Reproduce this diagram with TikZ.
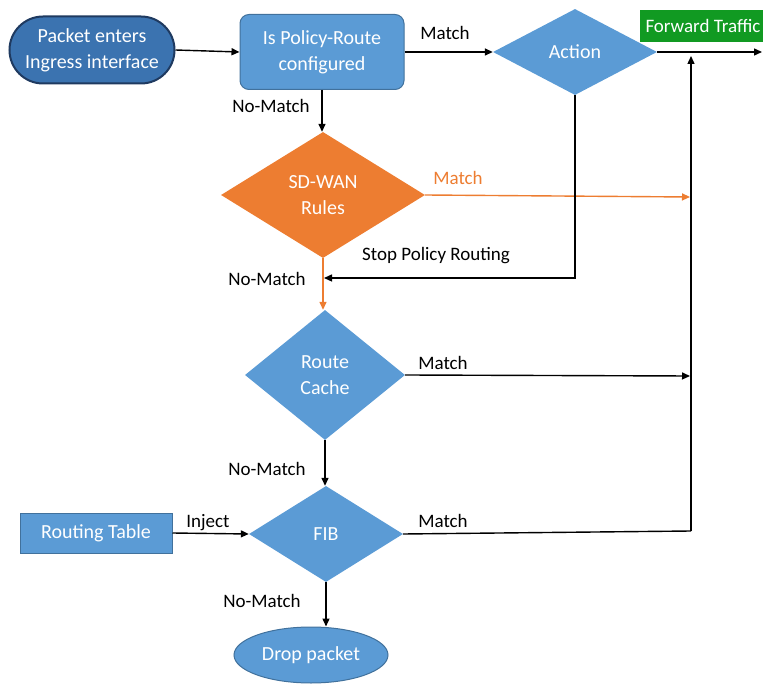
\documentclass[tikz,border=0pt]{standalone}
\usepackage{fontspec}
\setmainfont{Carlito}
\usetikzlibrary{shapes.geometric,shapes.misc,arrows.meta,calc}
\definecolor{bluefill}{HTML}{5B9BD5}
\definecolor{blueedge}{HTML}{41719C}
\definecolor{darkfill}{HTML}{3B73B0}
\definecolor{darkedge}{HTML}{1F3A60}
\definecolor{orangefill}{HTML}{ED7D31}
\definecolor{greenfill}{HTML}{119A22}
\tikzset{
  ntext/.style={text=white, font=\fontsize{20}{26}\selectfont, align=center},
  lbl/.style={font=\fontsize{19}{22}\selectfont, text=black},
  conn/.style={draw=black, line width=1.4pt, -{Triangle[length=8pt,width=7pt]}},
  plain/.style={draw=black, line width=1.4pt},
  oconn/.style={draw=orangefill, line width=1.4pt, -{Triangle[length=8pt,width=7pt]}},
}
\begin{document}
\begin{tikzpicture}[x=1pt,y=-1pt]
\useasboundingbox (0,0) rectangle (763,684);
% nodes
\node[rounded rectangle, fill=darkfill, draw=darkedge, line width=2pt, minimum width=165pt, minimum height=67pt, inner sep=0pt] (start) at (92,50) {};
\node[ntext] (starttext) at (start.center) {Packet enters\\Ingress interface};
\node[rounded corners=9pt, fill=bluefill, draw=blueedge, line width=1pt, minimum width=164pt, minimum height=75pt, inner sep=0pt] (policy) at (322,52) {};
\node[ntext] (policytext) at (policy.center) {Is Policy-Route\\configured};
\node[diamond, fill=bluefill, minimum width=164pt, minimum height=86pt, inner sep=0pt] (action) at (575,52) {};
\node[ntext] (actiontext) at (action.center) {Action};
\node[fill=greenfill, minimum width=126pt, minimum height=32pt, inner sep=0pt, text=white, font=\fontsize{19}{21}\selectfont] (fwd) at (703,26) {Forward Traffic};
\node[diamond, fill=orangefill, minimum width=204pt, minimum height=126pt, inner sep=0pt] (sdwan) at (323,195) {};
\node[ntext] (sdwantext) at (sdwan.center) {SD-WAN\\Rules};
\node[diamond, fill=bluefill, minimum width=160pt, minimum height=130pt, inner sep=0pt] (rc) at (325,375) {};
\node[ntext] (rctext) at (rc.center) {Route\\Cache};
\node[diamond, fill=bluefill, minimum width=154pt, minimum height=96pt, inner sep=0pt] (fib) at (326,534) {};
\node[ntext] (fibtext) at (fib.center) {FIB};
\node[fill=bluefill, draw=blueedge, line width=1pt, minimum width=152pt, minimum height=40pt, inner sep=0pt, ntext] (rt) at (96,533) {Routing Table};
\node[ellipse, fill=bluefill, draw=blueedge, line width=1pt, minimum width=154pt, minimum height=56pt, inner sep=0pt, ntext] (drop) at (311,655) {Drop packet};
% coordinates
\coordinate (fwdend) at (762,52);
\coordinate (busin) at (691,56);
\coordinate (busbot) at (691,531);
\coordinate (sdhit) at (690,197);
\coordinate (rchit) at (690,376);
\coordinate (stopin) at (324,278);
% connectors
\draw[conn] (start.east) -- (policy.west);
\draw[conn] (policy.east) -- (action.west);
\draw[conn] (action.east) -- (fwdend);
\draw[conn] (policy.south) -- (policy.south |- sdwan.north);
\draw[oconn] (sdwan.east) -- (sdhit);
\draw[oconn] (sdwan.south) -- (sdwan.south |- rc.north);
\draw[conn] (action.south) |- (stopin);
\draw[conn] (rc.south) -- (rc.south |- fib.north);
\draw[conn] (rc.east) -- (rchit);
\draw[conn] (rt.east) -- (fib.west);
\draw[plain] (fib.east) -- (busbot);
\draw[conn] (busbot) -- (busin);
\draw[conn] (fib.south) -- (fib.south |- drop.north);
% labels
\node[lbl] (l1) at (445,33) {Match};
\node[lbl] (l2) at (271,106) {No-Match};
\node[lbl, text=orangefill] (l3) at (458,178) {Match};
\node[lbl] (l4) at (436,256) {Stop Policy Routing};
\node[lbl] (l5) at (267,279) {No-Match};
\node[lbl] (l6) at (443,363) {Match};
\node[lbl] (l7) at (267,469) {No-Match};
\node[lbl] (l8) at (208,523) {Inject};
\node[lbl] (l9) at (443,521) {Match};
\node[lbl] (l10) at (262,601) {No-Match};
\end{tikzpicture}
\end{document}
